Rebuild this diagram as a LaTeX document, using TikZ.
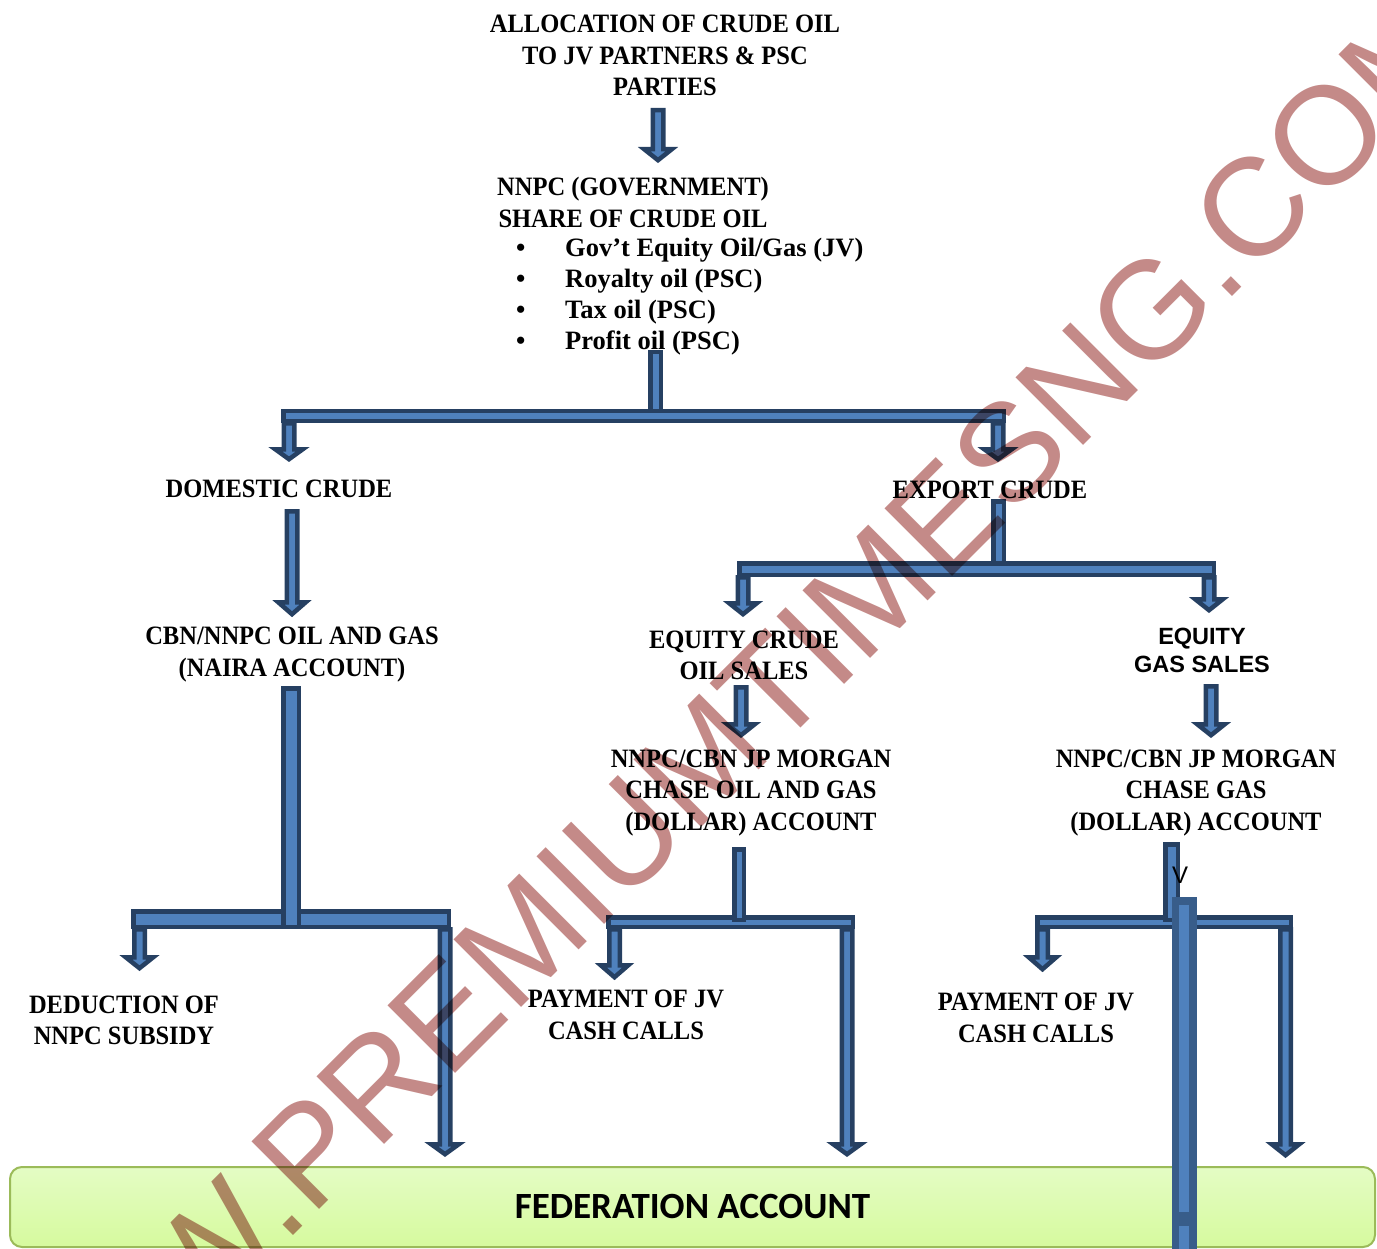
\documentclass[tikz,border=0pt]{standalone}
\usepackage{fontspec}
\setmainfont{Liberation Serif}
\newfontfamily\capfont{Liberation Serif}[FakeStretch=0.925]
\newfontfamily\mysans{Liberation Sans}
\newfontfamily\calfont{Carlito}
\definecolor{adark}{RGB}{38,64,98}
\definecolor{afill}{RGB}{79,129,189}
\definecolor{bdark}{RGB}{56,93,138}
\definecolor{boxedge}{RGB}{155,187,89}
\definecolor{boxtop}{RGB}{228,252,196}
\definecolor{boxbot}{RGB}{214,250,158}
\definecolor{wm}{RGB}{196,138,136}
\newcommand\blockdown[4]{%
  \path[blk] ({#1-5.25},{#2+2.25}) -- ({#1+5.25},{#2+2.25}) -- ({#1+5.25},{#3+2.25}) -- ({#1+13.75},{#3+2.25}) -- (#1,{#4-2.8}) -- ({#1-13.75},{#3+2.25}) -- ({#1-5.25},{#3+2.25}) -- cycle;}
\newcommand\blockrect[4]{%
  \path[blk] ({#1+2.25},{#2+2.25}) rectangle ({#3-2.25},{#4-2.25});}
\begin{document}
\begin{tikzpicture}[x=1pt,y=-1pt,
  blk/.style={draw=adark, fill=afill, line width=4.5pt, line join=miter},
  txt/.style={font=\capfont\bfseries\fontsize{26.5}{31.5}\selectfont, align=center, inner sep=0pt},
  listtxt/.style={font=\bfseries\fontsize{26.5}{31}\selectfont, align=left, inner sep=0pt},
  sanstxt/.style={font=\mysans\bfseries\fontsize{23.5}{28}\selectfont, align=center, inner sep=0pt},
  fedbox/.style={draw=boxedge, line width=2pt, rounded corners=12pt, top color=boxtop, bottom color=boxbot, minimum width=1365pt, minimum height=80pt, inner sep=0pt, font=\calfont\bfseries\fontsize{37}{40}\selectfont}]
\useasboundingbox (0,0) rectangle (1377,1249);

% federation account box
\node[fedbox] (fed) at (692.5,1207) {\raisebox{2pt}{FEDERATION ACCOUNT}};

% texts
\node[txt] (alloc) at (665,55.5) {ALLOCATION OF CRUDE OIL\\TO JV PARTNERS \& PSC\\PARTIES};
\node[txt] (nnpc) at (633,202.5) {NNPC (GOVERNMENT)\\SHARE OF CRUDE OIL};
\node[listtxt, anchor=west] (shares) at (516,296.5) {%
\makebox[49pt][l]{•}Gov’t Equity Oil/Gas (JV)\\
\makebox[49pt][l]{•}Royalty oil (PSC)\\
\makebox[49pt][l]{•}Tax oil (PSC)\\
\makebox[49pt][l]{•}Profit oil (PSC)};
\node[txt] (domestic) at (279,489) {DOMESTIC CRUDE};
\node[txt] (export) at (990,490) {EXPORT CRUDE};
\node[txt] (naira) at (292,654.5) {CBN/NNPC OIL AND GAS\\(NAIRA ACCOUNT)};
\node[txt] (eqcrude) at (744,655.5) {EQUITY CRUDE\\OIL SALES};
\node[sanstxt] (eqgas) at (1202,650) {EQUITY\\GAS SALES};
\node[txt] (jpoil) at (751,793) {NNPC/CBN JP MORGAN\\CHASE OIL AND GAS\\(DOLLAR) ACCOUNT};
\node[txt] (jpgas) at (1196,793) {NNPC/CBN JP MORGAN\\CHASE GAS\\(DOLLAR) ACCOUNT};
\node[txt] (deduct) at (124,1020.5) {DEDUCTION OF\\NNPC SUBSIDY};
\node[txt] (pay1) at (626,1015) {PAYMENT OF JV\\CASH CALLS};
\node[txt] (pay2) at (1036,1018) {PAYMENT OF JV\\CASH CALLS};

% top arrow
\blockdown{658}{108}{147}{163}
% split to domestic / export
\blockrect{648}{350}{663}{418}
\blockrect{281}{409}{1006}{423}
\blockdown{289}{421}{447}{462}
\blockdown{998}{421}{447}{462}
% domestic
\blockdown{292}{509}{600}{617}
% export split
\blockrect{991}{499}{1006}{570}
\blockrect{737}{561}{1216}{577}
\blockdown{743}{575}{601}{617}
\blockdown{1209}{575}{597}{613}
% equity arrows
\blockdown{741}{685}{722}{738}
\blockdown{1211}{684}{722}{738}
% naira split
\blockrect{131}{909}{451}{929}
\blockrect{281}{686}{301}{929}
\blockdown{139.5}{927}{955}{971}
\blockdown{445}{927}{1142}{1157}
% oil dollar split
\blockrect{606}{915}{855}{929}
\blockrect{732}{847}{746}{922}
\blockdown{614.5}{927}{963}{980}
\blockdown{847}{927}{1142}{1157}
% gas dollar split
\blockrect{1035}{915}{1293}{929}
\blockrect{1163}{842}{1180}{922}
\blockdown{1042.5}{927}{955}{972}
\blockdown{1285.5}{927}{1142}{1158}
% tall bar
\fill[bdark] (1172,897) rectangle (1197,1249);
\fill[afill] (1179,905) rectangle (1189,1212);
\fill[afill] (1179,1226) rectangle (1189,1249);
\node[font=\mysans\fontsize{24}{24}\selectfont, inner sep=0pt] (v) at (1180,875) {V};

% watermark
\begin{scope}[blend mode=multiply]
\clip (0,0) rectangle (1377,1249);
\node[font=\mysans\fontsize{139}{139}\selectfont, text=wm, rotate=45, anchor=base west, inner sep=0pt] (wmark) at (11,1518) {WWW.PREMIUMTIMESNG.COM};
\end{scope}
\end{tikzpicture}
\end{document}
